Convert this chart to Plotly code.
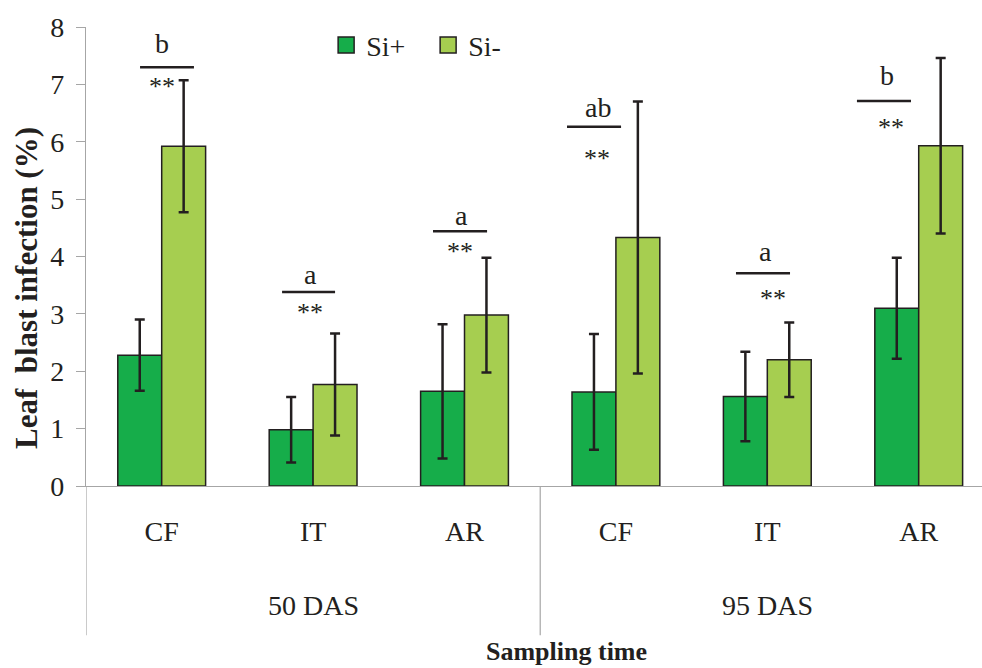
import plotly.graph_objects as go

# Leaf blast infection by sampling time and growth stage
stages = ["CF", "IT", "AR", "CF", "IT", "AR"]
sampling_times = ["50 DAS", "95 DAS"]
si_plus = [2.28, 0.98, 1.65, 1.64, 1.56, 3.10]
si_plus_err = [0.62, 0.57, 1.17, 1.01, 0.78, 0.88]
si_minus = [5.92, 1.77, 2.98, 4.33, 2.20, 5.93]
si_minus_err = [1.15, 0.89, 1.00, 2.37, 0.65, 1.53]

# Significance letters and marks above each pair
sig_letters = ["b", "a", "a", "ab", "a", "b"]
sig_marks = ["**", "**", "**", "**", "**", "**"]
letter_x = [0.0, 0.98, 1.98, 2.88, 3.99, 4.79]
letter_y = [7.72, 3.68, 4.72, 6.60, 4.08, 7.16]
bar_line_x0 = [-0.143, 0.795, 1.792, 2.677, 3.793, 4.592]
bar_line_x1 = [0.213, 1.145, 2.149, 3.034, 4.150, 4.949]
bar_line_y = [7.30, 3.38, 4.44, 6.26, 3.71, 6.71]
mark_x = [0.0, 0.98, 1.97, 2.875, 4.04, 4.82]
mark_y = [6.97, 3.03, 4.08, 5.70, 3.26, 6.25]

DARK = "#16AD4A"
LIGHT = "#A6CE50"
INK = "#231F20"
AXIS = "#A6A6A6"
SERIF = "Liberation Serif, Times New Roman, serif"

x = list(range(len(stages)))

fig = go.Figure()
fig.add_trace(go.Bar(
    x=x, y=si_plus, name="Si+", showlegend=False,
    marker=dict(color=DARK, line=dict(color=INK, width=1.5)),
    error_y=dict(type="data", array=si_plus_err, color=INK, thickness=2.5, width=5),
))
fig.add_trace(go.Bar(
    x=x, y=si_minus, name="Si-", showlegend=False,
    marker=dict(color=LIGHT, line=dict(color=INK, width=1.5)),
    error_y=dict(type="data", array=si_minus_err, color=INK, thickness=2.5, width=5),
))
# legend entries
for name, col in [("Si+", DARK), ("Si-", LIGHT)]:
    fig.add_trace(go.Scatter(
        x=[None], y=[None], mode="markers", name=name,
        marker=dict(symbol="square", size=16, color=col, line=dict(color=INK, width=1.5)),
    ))

shapes = []
annotations = []
for i in range(len(stages)):
    shapes.append(dict(type="line", xref="x", yref="y",
                       x0=bar_line_x0[i], x1=bar_line_x1[i],
                       y0=bar_line_y[i], y1=bar_line_y[i],
                       line=dict(color=INK, width=2.5)))
    annotations.append(dict(x=letter_x[i], y=letter_y[i], xref="x", yref="y",
                            text=sig_letters[i], showarrow=False,
                            font=dict(family=SERIF, size=28, color=INK)))
    annotations.append(dict(x=mark_x[i], y=mark_y[i], xref="x", yref="y",
                            text=sig_marks[i], showarrow=False,
                            font=dict(family=SERIF, size=26, color=INK)))

# group separators below the axis
for xv in [-0.5, 2.5]:
    shapes.append(dict(type="line", xref="x", yref="paper",
                       x0=xv, x1=xv, y0=0, y1=-0.325,
                       line=dict(color=AXIS, width=1.2)))

# sampling-time group labels
for j, lab in enumerate(sampling_times):
    annotations.append(dict(x=3 * j + 1, y=-0.26, xref="x", yref="paper",
                            text=lab, showarrow=False, yanchor="middle",
                            font=dict(family=SERIF, size=28, color=INK)))

# axis titles
annotations.append(dict(x=0.536, y=-0.3965, xref="paper", yref="paper",
                        text="<b>Sampling time</b>", showarrow=False,
                        yanchor="bottom",
                        font=dict(family=SERIF, size=26, color=INK)))
annotations.append(dict(x=(26 - 86) / 896, y=(486 - 288) / 459,
                        xref="paper", yref="paper",
                        text="<b>Leaf  blast infection (%)</b>", showarrow=False,
                        textangle=-90, xanchor="center", yanchor="middle",
                        font=dict(family=SERIF, size=31, color=INK)))

fig.update_layout(
    width=982, height=668,
    margin=dict(l=86, r=0, t=27, b=182),
    paper_bgcolor="white", plot_bgcolor="white",
    barmode="group", bargap=0.42, bargroupgap=0,
    shapes=shapes, annotations=annotations,
    legend=dict(orientation="h", x=0.268, y=0.96, xanchor="left", yanchor="middle",
                entrywidth=57, entrywidthmode="pixels", itemwidth=30,
                font=dict(family=SERIF, size=28, color=INK),
                bgcolor="rgba(0,0,0,0)"),
    xaxis=dict(range=[-0.5, 5.418], tickvals=x, ticktext=stages,
               showline=True, linecolor=AXIS, linewidth=1.2,
               ticks="", showgrid=False, zeroline=False,
               tickfont=dict(family=SERIF, size=28, color=INK),
               ticklabelstandoff=20),
    yaxis=dict(range=[0, 8], dtick=1, showline=True, linecolor=AXIS, linewidth=1.2,
               ticks="outside", ticklen=9, tickcolor=AXIS, tickwidth=1.2,
               showgrid=False, zeroline=False,
               tickfont=dict(family=SERIF, size=28, color=INK),
               ticklabelstandoff=6),
)

fig.write_html("out.html")
